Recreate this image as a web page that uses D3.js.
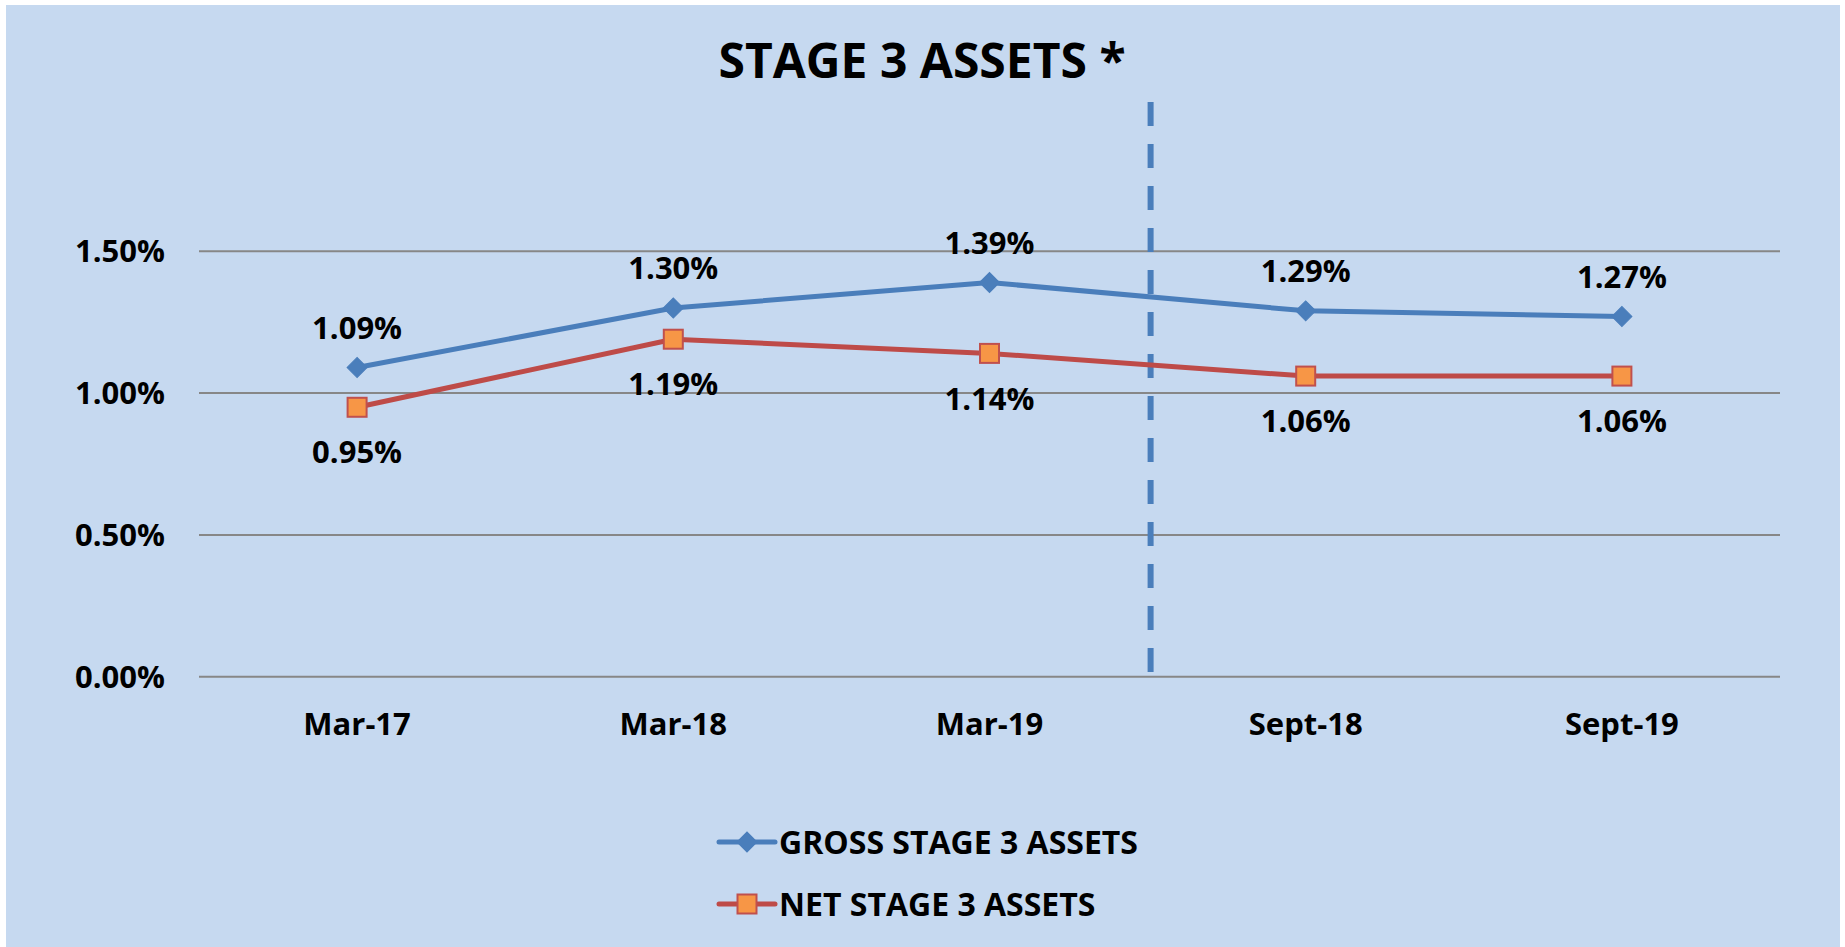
<!DOCTYPE html>
<html lang="en">
<head>
    <meta charset="UTF-8">
    <title>Stage 3 Assets</title>
    <style>
        body { margin: 0; background: #fff; }
        text { font-family: "Open Sans", "DejaVu Sans", sans-serif; font-weight: 700; fill: #000; }
    </style>
</head>
<body>
<script src='https://d3js.org/d3.v7.min.js' type='text/javascript'></script>
<script>
    var categories = ["Mar-17", "Mar-18", "Mar-19", "Sept-18", "Sept-19"];
    var gross = [1.09, 1.30, 1.39, 1.29, 1.27];
    var net = [0.95, 1.19, 1.14, 1.06, 1.06];
    var yTicks = [0, 0.5, 1.0, 1.5];
    var seriesNames = ["GROSS STAGE 3 ASSETS", "NET STAGE 3 ASSETS"];

    const width = 1845;
    const height = 947;
    const plotLeft = 199;
    const plotRight = 1780;
    const plotBottom = 676.7;
    const plotTop = 251.3;
    const fontSize = "31px";

    const svg = d3.select("body")
        .append("svg")
        .attr('width', width)
        .attr('height', height);

    // chart background
    svg.append("rect")
        .attr("x", 6).attr("y", 5)
        .attr("width", 1834).attr("height", 942)
        .attr("fill", "#C6D9F0");

    svg.append("text")
        .attr("x", 922).attr("y", 78)
        .attr("text-anchor", "middle")
        .style("font-size", "48px")
        .text("STAGE 3 ASSETS *");

    var x = d3.scaleBand().domain(categories).range([plotLeft, plotRight]);
    var y = d3.scaleLinear().domain([0, 1.5]).range([plotBottom, plotTop]);
    var cx = function (c) { return x(c) + x.bandwidth() / 2; };

    // gridlines
    svg.selectAll(".grid")
        .data(yTicks)
        .enter().append("line")
        .attr("x1", plotLeft).attr("x2", plotRight)
        .attr("y1", function (d) { return y(d); })
        .attr("y2", function (d) { return y(d); })
        .attr("stroke", "#878787")
        .attr("stroke-width", 2);

    // y axis labels
    svg.selectAll(".ylab")
        .data(yTicks)
        .enter().append("text")
        .attr("x", 165)
        .attr("y", function (d) { return y(d); })
        .attr("dy", "0.36em")
        .attr("text-anchor", "end")
        .style("font-size", fontSize)
        .text(function (d) { return d.toFixed(2) + "%"; });

    // x axis labels
    svg.selectAll(".xlab")
        .data(categories)
        .enter().append("text")
        .attr("x", cx)
        .attr("y", 724)
        .attr("dy", "0.36em")
        .attr("text-anchor", "middle")
        .style("font-size", fontSize)
        .text(function (d) { return d; });

    // divider between March and September periods
    var divX = x(categories[3]) + 3;
    svg.append("line")
        .attr("x1", divX).attr("x2", divX)
        .attr("y1", 102).attr("y2", plotBottom)
        .attr("stroke", "#4A7EBB")
        .attr("stroke-width", 6)
        .attr("stroke-dasharray", "24,18");

    var line = d3.line()
        .x(function (d, i) { return cx(categories[i]); })
        .y(function (d) { return y(d); });

    function drawDiamond(g, px, py) {
        g.append("path")
            .attr("transform", "translate(" + px + "," + py + ") rotate(45)")
            .attr("d", d3.symbol().type(d3.symbolSquare).size(200)())
            .attr("fill", "#4A7EBB")
            .attr("stroke", "#4A7EBB")
            .attr("stroke-width", 1);
    }

    function drawSquare(g, px, py) {
        g.append("rect")
            .attr("x", px - 9.5).attr("y", py - 9.5)
            .attr("width", 19).attr("height", 19)
            .attr("fill", "#F79646")
            .attr("stroke", "#C0504D")
            .attr("stroke-width", 2);
    }

    // gross series
    var g1 = svg.append("g");
    g1.append("path")
        .attr("d", line(gross))
        .attr("fill", "none")
        .attr("stroke", "#4A7EBB")
        .attr("stroke-width", 5)
        .attr("stroke-linejoin", "round");
    gross.forEach(function (v, i) { drawDiamond(g1, cx(categories[i]), y(v)); });

    // net series
    var g2 = svg.append("g");
    g2.append("path")
        .attr("d", line(net))
        .attr("fill", "none")
        .attr("stroke", "#BE4B48")
        .attr("stroke-width", 5)
        .attr("stroke-linejoin", "round");
    net.forEach(function (v, i) { drawSquare(g2, cx(categories[i]), y(v)); });

    // data labels
    svg.selectAll(".glab")
        .data(gross)
        .enter().append("text")
        .attr("x", function (d, i) { return cx(categories[i]); })
        .attr("y", function (d) { return y(d) - 40; })
        .attr("dy", "0.36em")
        .attr("text-anchor", "middle")
        .style("font-size", fontSize)
        .text(function (d) { return d.toFixed(2) + "%"; });

    svg.selectAll(".nlab")
        .data(net)
        .enter().append("text")
        .attr("x", function (d, i) { return cx(categories[i]); })
        .attr("y", function (d) { return y(d) + 45; })
        .attr("dy", "0.36em")
        .attr("text-anchor", "middle")
        .style("font-size", fontSize)
        .text(function (d) { return d.toFixed(2) + "%"; });

    // legend
    var legend = svg.append("g");
    var legendY = [842, 904];
    legend.append("line")
        .attr("x1", 719).attr("x2", 775)
        .attr("y1", legendY[0]).attr("y2", legendY[0])
        .attr("stroke", "#4A7EBB").attr("stroke-width", 5).attr("stroke-linecap", "round");
    drawDiamond(legend, 747, legendY[0]);
    legend.append("line")
        .attr("x1", 719).attr("x2", 775)
        .attr("y1", legendY[1]).attr("y2", legendY[1])
        .attr("stroke", "#BE4B48").attr("stroke-width", 5).attr("stroke-linecap", "round");
    drawSquare(legend, 747, legendY[1]);
    legend.selectAll(".ltext")
        .data(seriesNames)
        .enter().append("text")
        .attr("x", 779)
        .attr("y", function (d, i) { return legendY[i]; })
        .attr("dy", "0.36em")
        .style("font-size", "32px")
        .text(function (d) { return d; });
</script>
</body>
</html>
